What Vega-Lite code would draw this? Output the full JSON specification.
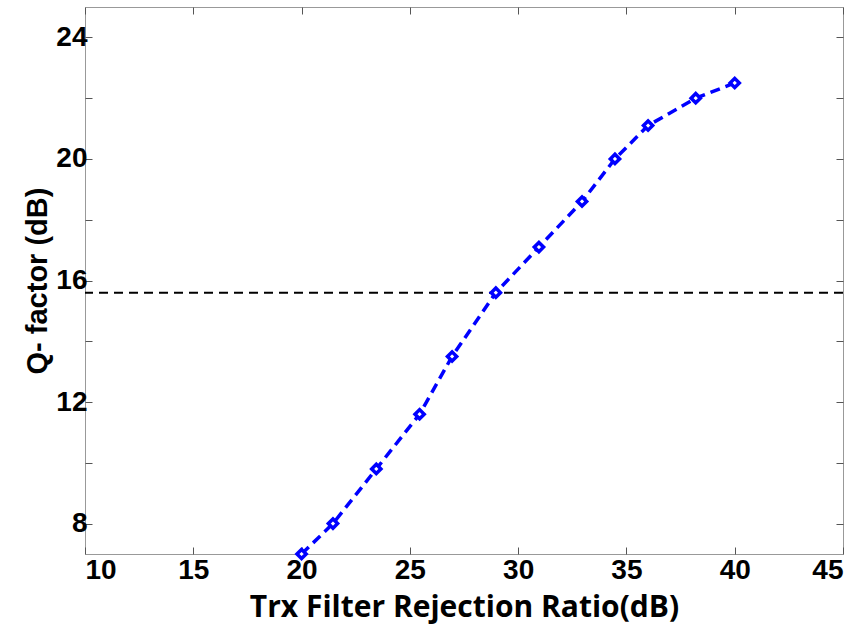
{
  "$schema": "https://vega.github.io/schema/vega-lite/v6.json",
  "width": 758,
  "height": 547,
  "autosize": {"type": "none"},
  "padding": {"left": 85, "top": 7, "right": 20, "bottom": 77},
  "background": "white",
  "config": {
    "view": {"stroke": "#999999", "strokeWidth": 1},
    "axis": {
      "grid": false,
      "domain": false,
      "tickColor": "#555555",
      "tickSize": -7,
      "labelFont": "Liberation Sans",
      "labelFontWeight": "bold",
      "labelFontSize": 28,
      "labelColor": "black",
      "titleColor": "black"
    }
  },
  "resolve": {"axis": {"x": "independent", "y": "independent"}},
  "datasets": {
    "curve": [
      {"x": 20, "q": 7.0},
      {"x": 21.45, "q": 8.0},
      {"x": 23.45, "q": 9.8},
      {"x": 25.45, "q": 11.6},
      {"x": 26.95, "q": 13.5},
      {"x": 28.97, "q": 15.6},
      {"x": 30.96, "q": 17.1},
      {"x": 32.95, "q": 18.6},
      {"x": 34.47, "q": 20.0},
      {"x": 36.0, "q": 21.1},
      {"x": 38.2, "q": 22.0},
      {"x": 40.0, "q": 22.5}
    ],
    "threshold": [{"q": 15.6}]
  },
  "layer": [
    {
      "data": {"name": "threshold"},
      "mark": {"type": "rule", "color": "black", "strokeWidth": 2, "strokeDash": [9, 6]},
      "encoding": {
        "y": {"field": "q", "type": "quantitative", "scale": {"domain": [7, 25.0], "nice": false}, "axis": null}
      }
    },
    {
      "data": {"name": "curve"},
      "mark": {"type": "line", "color": "#0000ff", "strokeWidth": 3.5, "strokeDash": [10, 6]},
      "encoding": {
        "x": {
          "field": "x", "type": "quantitative",
          "scale": {"domain": [10, 45], "nice": false},
          "axis": {
            "values": [10, 15, 20, 25, 30, 35, 40, 45],
            "title": "Trx Filter Rejection Ratio(dB)",
            "titleFont": "Open Sans", "titleFontWeight": "bold", "titleFontSize": 30,
            "labelPadding": 9, "titlePadding": 8
          }
        },
        "y": {
          "field": "q", "type": "quantitative",
          "scale": {"domain": [7, 25.0], "nice": false},
          "axis": {
            "values": [8, 10, 12, 14, 16, 18, 20, 22, 24],
            "labelExpr": "datum.value % 4 == 0 ? datum.label : ''",
            "title": "Q- factor (dB)",
            "titleFont": "Liberation Sans", "titleFontWeight": "bold", "titleFontSize": 29,
            "labelPadding": 5, "titlePadding": 3
          }
        }
      }
    },
    {
      "data": {"name": "curve"},
      "mark": {"type": "point", "shape": "diamond", "color": "#0000ff", "filled": false, "fill": "white", "strokeWidth": 3.5, "size": 85, "opacity": 1},
      "encoding": {
        "x": {
          "field": "x", "type": "quantitative",
          "axis": {"orient": "top", "values": [10, 15, 20, 25, 30, 35, 40, 45], "labels": false, "title": null}
        },
        "y": {
          "field": "q", "type": "quantitative",
          "axis": {"orient": "right", "values": [8, 10, 12, 14, 16, 18, 20, 22, 24], "labels": false, "title": null}
        }
      }
    }
  ]
}
